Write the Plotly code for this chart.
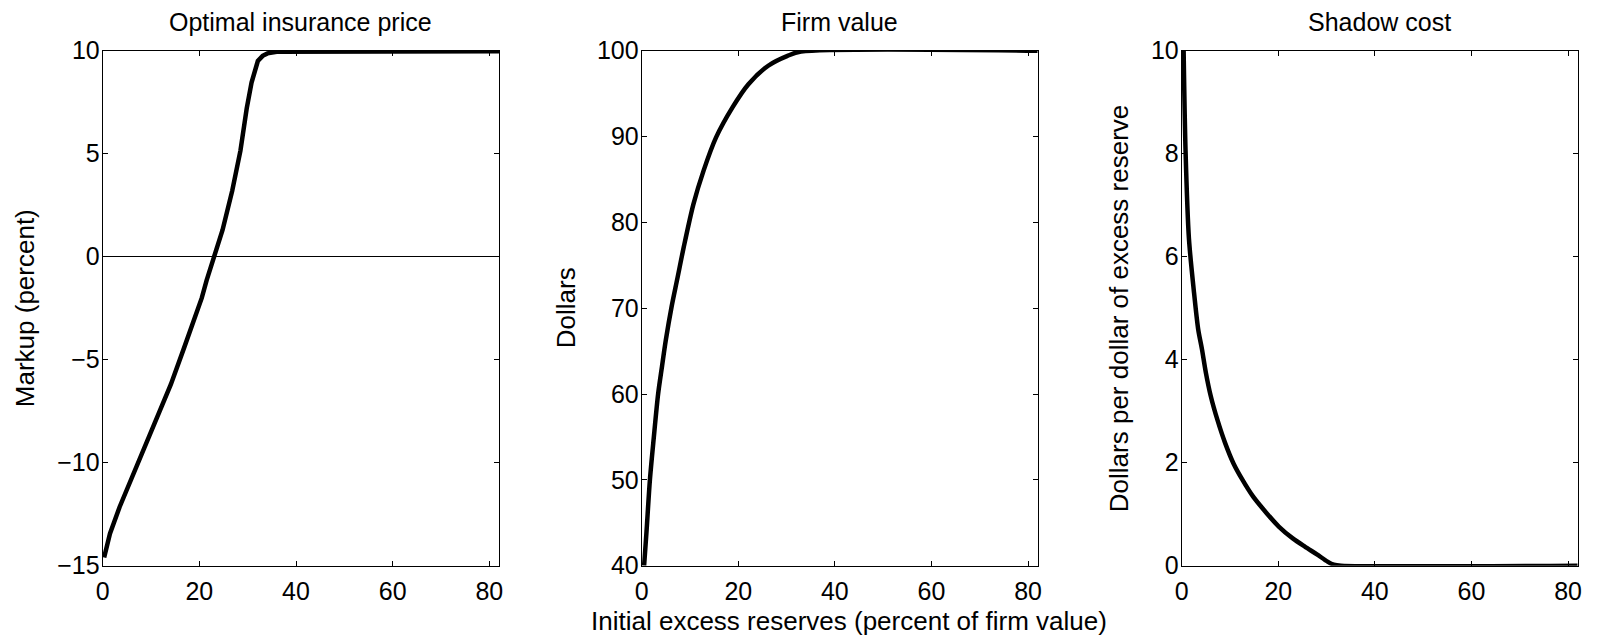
import plotly.graph_objects as go

# page body has an 8px margin: the figure is placed at (8, 8) in the window
OFF = 8
W, H = 1609 - OFF, 638 - OFF

# ---- data ----
x_markup = [0.3, 1.5, 3.5, 6.1, 8.8, 11.5, 14.1, 16.8, 18.8, 20.5, 21.5, 23.1, 24.8,
            26.8, 28.5, 29.8, 30.8, 32.1, 33.1, 34.1, 36.0, 82.0]
markup = [-14.6, -13.45, -12.15, -10.7, -9.1, -7.65, -6.2, -4.45, -3.1, -2.0, -1.15, 0.0, 1.3,
          3.2, 5.15, 7.2, 8.45, 9.5, 9.75, 9.87, 9.95, 9.97]

x_value = [0.5, 1.0, 1.7, 2.5, 3.4, 4.2, 5.0, 6.2, 7.4, 8.7, 10.7, 12.8, 15.4, 18.8,
           22.1, 26.2, 30.2, 33.0, 82.0]
firm_value = [40.0, 44.0, 50.0, 54.9, 60.0, 63.2, 66.3, 70.2, 73.5, 77.1, 82.1, 86.0, 89.9, 93.4,
              96.1, 98.25, 99.4, 99.9, 100.0]

x_shadow = [0.4, 0.8, 1.5, 2.5, 3.4, 4.2, 5.0, 6.0, 7.4, 9.0, 10.7, 12.5, 14.8, 17.5,
            20.1, 23.0, 25.5, 28.0, 30.2, 31.5, 33.0, 82.0]
shadow_cost = [10.0, 8.05, 6.35, 5.35, 4.6, 4.2, 3.75, 3.3, 2.83, 2.38, 1.99, 1.68, 1.34, 1.03,
               0.76, 0.53, 0.37, 0.22, 0.08, 0.02, 0.0, 0.0]

titles = ["Optimal insurance price", "Firm value", "Shadow cost"]
ylabels = ["Markup (percent)", "Dollars", "Dollars per dollar of excess reserve"]
xlabel = "Initial excess reserves (percent of firm value)"

x_ticks = [0, 20, 40, 60, 80]
y_ticks = [[-15, -10, -5, 0, 5, 10],
           [40, 50, 60, 70, 80, 90, 100],
           [0, 2, 4, 6, 8, 10]]
y_ranges = [[-15, 10], [40, 100], [0, 10]]
x_range = [0, 82]

# ---- layout geometry (window pixels of the reference) ----
panels_px = [(102.7, 499.0), (641.7, 1037.7), (1181.7, 1577.7)]
top_px, bot_px = 50.7, 565.7
ylabel_x_px = [25, 566, 1119]


def fx(px):
    return (px - OFF) / W


def fy(py):
    return 1 - (py - OFF) / H


FONT = "Liberation Sans, Arial, Helvetica, sans-serif"
FS = 25
FS_LABEL = 26

fig = go.Figure()
series = [(x_markup, markup, "linear"), (x_value, firm_value, "spline"),
          (x_shadow, shadow_cost, "spline")]
for i, (xs, ys, shp) in enumerate(series):
    sfx = "" if i == 0 else str(i + 1)
    fig.add_trace(go.Scatter(x=xs, y=ys, mode="lines", xaxis="x" + sfx, yaxis="y" + sfx,
                             line=dict(color="black", width=4.5, shape=shp, smoothing=0.8),
                             cliponaxis=False, showlegend=False, hoverinfo="skip"))

axis_common = dict(ticks="inside", ticklen=5, tickwidth=1, tickcolor="black",
                   showline=True, linecolor="black", linewidth=1, mirror="ticks",
                   showgrid=False, automargin=False,
                   tickfont=dict(family=FONT, size=FS, color="black"))

annotations = []
for i in range(3):
    sfx = "" if i == 0 else str(i + 1)
    l, r = panels_px[i]
    fig.layout["xaxis" + sfx] = dict(domain=[fx(l), fx(r)], range=x_range, tickvals=x_ticks,
                                     anchor="y" + sfx, zeroline=False, ticklabelstandoff=3,
                                     **axis_common)
    fig.layout["yaxis" + sfx] = dict(domain=[fy(bot_px), fy(top_px)], range=y_ranges[i],
                                     tickvals=y_ticks[i], anchor="x" + sfx,
                                     zeroline=(i == 0), zerolinecolor="black", zerolinewidth=1,
                                     ticklabelstandoff=-3, **axis_common)
    annotations.append(dict(text=titles[i], x=fx((l + r) / 2), y=fy(21.5), xref="paper", yref="paper",
                            xanchor="center", yanchor="middle", showarrow=False,
                            font=dict(family=FONT, size=FS, color="black")))
    annotations.append(dict(text=ylabels[i], x=fx(ylabel_x_px[i]), y=fy((top_px + bot_px) / 2),
                            xref="paper", yref="paper", xanchor="center", yanchor="middle",
                            textangle=-90, showarrow=False,
                            font=dict(family=FONT, size=FS_LABEL, color="black")))

annotations.append(dict(text=xlabel, x=fx(849), y=fy(621), xref="paper", yref="paper",
                        xanchor="center", yanchor="middle", showarrow=False,
                        font=dict(family=FONT, size=FS_LABEL, color="black")))

fig.update_layout(template="none", width=W, height=H,
                  margin=dict(l=0, r=0, t=0, b=0, pad=0, autoexpand=False),
                  paper_bgcolor="white", plot_bgcolor="white",
                  font=dict(family=FONT, size=FS, color="black"),
                  annotations=annotations)

fig.write_html("out.html")
